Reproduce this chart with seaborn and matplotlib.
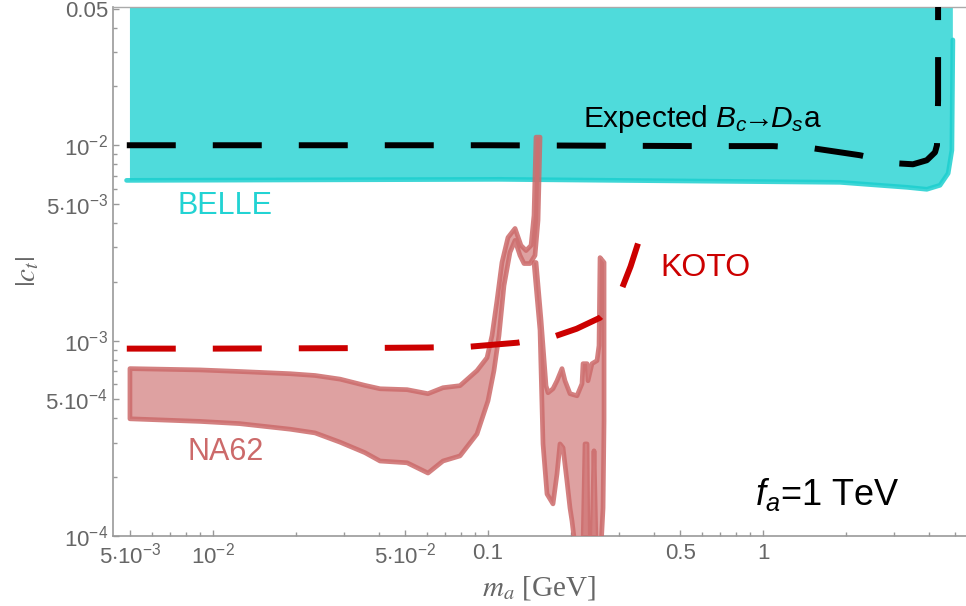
import matplotlib
matplotlib.use("Agg")
import matplotlib.pyplot as plt
import pandas as pd
import seaborn as sns
from matplotlib.ticker import FixedLocator, FixedFormatter, NullFormatter

# ---------------- data ----------------
# BELLE exclusion: lower boundary (left to right) then up the right edge
belle_x = [4.99e-3, 0.111, 1.905, 3.34, 3.94, 4.40, 4.71, 4.86, 4.90]
belle_y = [6.61e-3, 6.69e-3, 6.46e-3, 6.09e-3, 5.95e-3, 6.24e-3, 7.18e-3, 9.43e-3, 0.0346]
belle_top = 0.06

# Expected B_c -> D_s a sensitivity
expected_x = [4.86e-3, 0.1, 0.589, 1.087, 1.52, 2.25, 3.07, 3.51, 3.94, 4.22, 4.29, 4.33, 4.33]
expected_y = [1.0e-2, 1.0e-2, 9.9e-3, 9.9e-3, 9.65e-3, 8.89e-3, 8.08e-3, 7.99e-3, 8.38e-3,
              9.2e-3, 1.0e-2, 1.7e-2, 0.06]

# KOTO bound
koto_x = [4.86e-3, 0.01, 0.03, 0.06, 0.085, 0.128, 0.174, 0.21, 0.2555, 0.28, 0.307, 0.33, 0.351]
koto_y = [9.1e-4, 9.1e-4, 9.15e-4, 9.22e-4, 9.3e-4, 9.76e-4, 1.05e-3, 1.15e-3, 1.31e-3,
          1.5e-3, 1.85e-3, 2.4e-3, 3.14e-3]

# NA62 region 1: band from 5 MeV up to the narrow spike near 0.15 GeV
na62_a_upper_x = [4.99e-3, 8.97e-3, 0.0125, 0.0191, 0.0235, 0.0290, 0.0357, 0.0405, 0.0508,
                  0.0605, 0.0686, 0.0791, 0.0912, 0.0992, 0.1034, 0.1078, 0.1124, 0.1182,
                  0.1254, 0.1318, 0.1375, 0.1434, 0.1470, 0.1495]
na62_a_upper_y = [7.19e-4, 7.08e-4, 6.95e-4, 6.77e-4, 6.63e-4, 6.35e-4, 5.90e-4, 5.67e-4, 5.61e-4,
                  5.35e-4, 5.74e-4, 5.88e-4, 7.02e-4, 8.18e-4, 1.06e-3, 1.60e-3, 2.51e-3, 3.37e-3,
                  3.75e-3, 3.07e-3, 2.89e-3, 3.07e-3, 4.38e-3, 0.0110]
na62_a_lower_x = [4.99e-3, 8.97e-3, 0.0125, 0.0191, 0.0235, 0.0290, 0.0357, 0.0405, 0.0508,
                  0.0605, 0.0686, 0.0791, 0.0912, 0.1000, 0.1051, 0.1096, 0.1143, 0.1202,
                  0.1254, 0.1307, 0.1352, 0.1421, 0.1482, 0.1520, 0.1546]
na62_a_lower_y = [3.98e-4, 3.86e-4, 3.76e-4, 3.52e-4, 3.37e-4, 3.02e-4, 2.67e-4, 2.42e-4, 2.37e-4,
                  2.10e-4, 2.42e-4, 2.57e-4, 3.33e-4, 4.92e-4, 7.02e-4, 1.06e-3, 1.91e-3, 2.83e-3,
                  3.26e-3, 2.73e-3, 2.48e-3, 2.48e-3, 2.73e-3, 4.12e-3, 0.0110]

# NA62 region 2: 0.15 - 0.26 GeV (closed outline)
na62_b_x = [0.1470, 0.1495, 0.1559, 0.1625, 0.1653, 0.1723, 0.1782, 0.1858, 0.1905, 0.1987,
            0.2107, 0.2197, 0.2216, 0.2291, 0.2310, 0.2388, 0.2491, 0.2533, 0.2555, 0.2642,
            0.2642, 0.2620, 0.2577, 0.2470, 0.2429, 0.2388, 0.2310, 0.2291, 0.2253, 0.2216,
            0.2072, 0.2021, 0.1987, 0.1937, 0.1874, 0.1827, 0.1782, 0.1723, 0.1639, 0.1585,
            0.1546]
na62_b_y = [2.51e-3, 2.51e-3, 1.27e-3, 5.88e-4, 5.41e-4, 5.67e-4, 6.23e-4, 7.19e-4, 6.23e-4,
            5.35e-4, 5.22e-4, 6.02e-4, 7.62e-4, 7.62e-4, 6.23e-4, 7.62e-4, 7.90e-4, 9.43e-4,
            2.66e-3, 2.51e-3, 3.89e-4, 1.39e-4, 8.9e-5, 8.9e-5, 2.73e-4, 8.9e-5, 8.9e-5,
            2.96e-4, 2.96e-4, 8.9e-5, 8.9e-5, 1.19e-4, 1.39e-4, 1.91e-4, 2.83e-4, 2.96e-4,
            2.08e-4, 1.46e-4, 1.64e-4, 2.96e-4, 1.13e-3]

# axis ticks
x_major = [5e-3, 1e-2, 5e-2, 0.1, 0.5, 1]
x_major_labels = [r"$5{\cdot}10^{-3}$", r"$10^{-2}$", r"$5{\cdot}10^{-2}$", "0.1", "0.5", "1"]
y_major = [1e-4, 5e-4, 1e-3, 5e-3, 1e-2, 0.05]
y_major_labels = [r"$10^{-4}$", r"$5{\cdot}10^{-4}$", r"$10^{-3}$", r"$5{\cdot}10^{-3}$",
                  r"$10^{-2}$", "0.05"]

# ---------------- style ----------------
sns.set_theme(style="white")
plt.rcParams["font.family"] = ["Liberation Sans", "DejaVu Sans"]
plt.rcParams["mathtext.fontset"] = "custom"
plt.rcParams["mathtext.rm"] = "Liberation Sans"
plt.rcParams["mathtext.it"] = "Liberation Sans:italic"
plt.rcParams["mathtext.bf"] = "Liberation Sans:bold"

CYAN_FILL = "#4FDBDB"
CYAN_EDGE = "#1CCFCF"
NA62_FILL = "#D99191"
NA62_EDGE = "#CC6A6A"
KOTO_RED = "#CC0000"

fig = plt.figure(figsize=(9.66, 6.06), dpi=100)
ax = fig.add_axes([113 / 966, 1 - 536 / 606, 853 / 966, 529 / 606])
ax.set_xscale("log")
ax.set_yscale("log")
ax.set_xlim(4.33e-3, 5.47)
ax.set_ylim(1e-4, 0.051)

# BELLE filled region
bx = [belle_x[0]] + belle_x + [belle_x[-1]]
by = [belle_top] + belle_y + [belle_top]
ax.fill(bx, by, color=CYAN_FILL, lw=0, zorder=1)
belle_df = pd.DataFrame({"x": [4.85e-3] + belle_x, "y": [belle_y[0]] + belle_y})
sns.lineplot(data=belle_df, x="x", y="y", sort=False, estimator=None, ax=ax,
             color=CYAN_EDGE, lw=3.4, alpha=0.85, zorder=2)

# Expected B_c -> D_s a
exp_df = pd.DataFrame({"x": expected_x, "y": expected_y})
sns.lineplot(data=exp_df, x="x", y="y", sort=False, estimator=None, ax=ax,
             color="black", lw=4.3, linestyle=(0, (8.2, 6.2)),
             dash_capstyle="butt", zorder=3)

# NA62 regions
na_x = na62_a_upper_x + na62_a_lower_x[::-1]
na_y = na62_a_upper_y + na62_a_lower_y[::-1]
ax.fill(na_x, na_y, facecolor=NA62_FILL, edgecolor=NA62_EDGE, lw=3.4,
        alpha=0.85, joinstyle="round", zorder=4)
ax.fill(na62_b_x, na62_b_y, facecolor=NA62_FILL, edgecolor=NA62_EDGE, lw=3.4,
        alpha=0.85, joinstyle="round", zorder=4)

# KOTO
koto_df = pd.DataFrame({"x": koto_x, "y": koto_y})
sns.lineplot(data=koto_df, x="x", y="y", sort=False, estimator=None, ax=ax,
             color=KOTO_RED, lw=4.3, linestyle=(0, (8.2, 6.2)),
             dash_capstyle="butt", zorder=5)

# labels inside the plot
ax.text(0.0762, 0.6087, "BELLE", transform=ax.transAxes, color="#22D3D3",
        fontsize=22, ha="left", va="baseline")
ax.text(0.0879, 0.1437, "NA62", transform=ax.transAxes, color=NA62_EDGE,
        fontsize=22, ha="left", va="baseline")
ax.text(0.6413, 0.4915, "KOTO", transform=ax.transAxes, color=KOTO_RED,
        fontsize=23, ha="left", va="baseline")
ax.text(0.551, 0.7732, r"Expected $B_c\!\!{\rightarrow}\!\!D_s$a", transform=ax.transAxes,
        color="black", fontsize=21.5, ha="left", va="baseline")
ax.text(0.7526, 0.0586, r"$f_a$=1 TeV", transform=ax.transAxes,
        color="black", fontsize=26, ha="left", va="baseline")

# axes and ticks
ax.xaxis.set_major_locator(FixedLocator(x_major))
ax.xaxis.set_major_formatter(FixedFormatter(x_major_labels))
ax.xaxis.set_minor_locator(FixedLocator(
    [m * 10.0 ** e for e in (-3, -2, -1, 0) for m in range(2, 10)
     if 4.33e-3 < m * 10.0 ** e < 5.47]))
ax.xaxis.set_minor_formatter(NullFormatter())
ax.yaxis.set_major_locator(FixedLocator(y_major))
ax.yaxis.set_major_formatter(FixedFormatter(y_major_labels))
ax.yaxis.set_minor_locator(FixedLocator(
    [m * 10.0 ** e for e in (-4, -3, -2) for m in range(2, 10)
     if m * 10.0 ** e < 0.051]))
ax.yaxis.set_minor_formatter(NullFormatter())

ax.tick_params(which="both", direction="in", color="#999999", labelcolor="#666666",
               labelsize=16, width=1.0)
ax.tick_params(which="major", length=4.5)
ax.tick_params(which="minor", length=3.0)
ax.tick_params(axis="y", which="both", pad=3.5, left=True)
ax.tick_params(axis="x", which="both", pad=5, bottom=True)

for side in ("left", "bottom"):
    ax.spines[side].set_color("#999999")
    ax.spines[side].set_linewidth(1.2)
ax.spines["top"].set_color("#aaaaaa")
ax.spines["top"].set_linewidth(1.0)
ax.spines["right"].set_visible(False)

ax.set_xlabel(r"$m_a$ [GeV]", fontsize=21, color="#666666",
              family=["Liberation Serif", "DejaVu Serif"], math_fontfamily="stix")
ax.set_ylabel(r"$|c_t|$", fontsize=21, color="#666666",
              family=["Liberation Serif", "DejaVu Serif"], math_fontfamily="stix")
ax.xaxis.set_label_coords(0.5, -0.098)
ax.xaxis.label.set_va("center")
ax.yaxis.set_label_coords(-0.10, 0.5)
ax.yaxis.label.set_va("center")

fig.savefig("out.png", dpi=100)
